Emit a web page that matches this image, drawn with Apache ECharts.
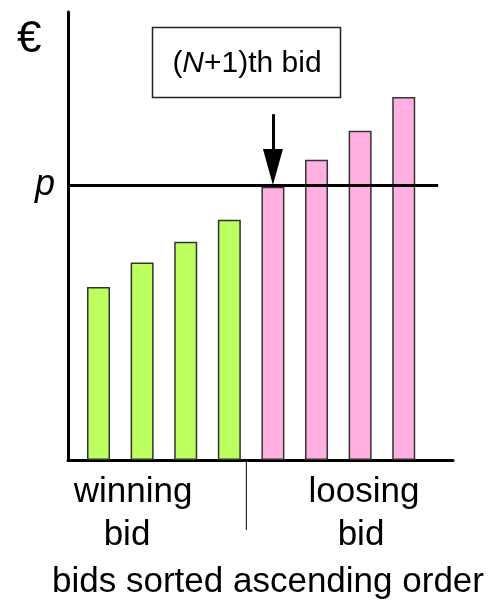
<!DOCTYPE html>
<html>
<head>
<meta charset="utf-8">
<script src="https://cdn.jsdelivr.net/npm/echarts@6/dist/echarts.min.js"></script>
<style>
    html, body { margin: 0; padding: 0; background: #fff; }
    #chart { width: 500px; height: 603px; }
</style>
</head>
<body>
<div id="chart"></div>
<script>
    // bids, sorted ascending (index on the x axis, value in arbitrary units)
    var bidIndex = [1, 2, 3, 4, 5, 6, 7, 8];
    var winningBids = [38.6, 44.1, 48.7, 53.6];
    var losingBids = [61.0, 67.0, 73.5, 81.0];
    var clearingPrice = 61.4;   // p
    var arrowFrom = 65.4;        // arrow head centre, points at the (N+1)th bid
    var arrowStart = 77.2;

    var FONT = '"Liberation Sans", Arial, sans-serif';
    var GREEN = '#bcff5e';
    var PINK = '#ffafe0';

    var barData = [];
    for (var i = 0; i < bidIndex.length; i++) {
        var win = i < winningBids.length;
        barData.push({
            value: [bidIndex[i], win ? winningBids[i] : losingBids[i - winningBids.length]],
            itemStyle: { color: win ? GREEN : PINK }
        });
    }

    var myChart = echarts.init(document.getElementById('chart'));
    var option = {
        animation: false,
        grid: { left: 68, right: 47, top: 12, bottom: 143 },
        xAxis: {
            type: 'value',
            min: 0.3,
            max: 9.13,
            axisLine: { show: true, lineStyle: { color: '#000', width: 3 } },
            axisTick: { show: false },
            axisLabel: { show: false },
            splitLine: { show: false }
        },
        yAxis: {
            type: 'value',
            min: 0,
            max: 100,
            axisLine: { show: true, lineStyle: { color: '#000', width: 3 } },
            axisTick: { show: false },
            axisLabel: { show: false },
            splitLine: { show: false }
        },
        series: [{
            type: 'bar',
            barWidth: 23,
            data: barData,
            itemStyle: { borderColor: '#333', borderWidth: 1.5 },
            markLine: {
                silent: true,
                symbol: 'none',
                data: [
                    [
                        { coord: [0.3, clearingPrice], lineStyle: { color: '#000', width: 3, type: 'solid' },
                          label: { show: true, position: 'start', formatter: 'p', distance: 13,
                                   fontFamily: FONT, fontStyle: 'italic', fontSize: 36, color: '#000' } },
                        { coord: [8.79, clearingPrice] }
                    ],
                    [
                        { coord: [5, arrowStart], symbol: 'none', lineStyle: { color: '#000', width: 3, type: 'solid' },
                          label: { show: false } },
                        { coord: [5, arrowFrom], symbol: 'triangle', symbolSize: [20, 36] }
                    ]
                ]
            }
        }]
    };
    myChart.setOption(option);

    var divX = myChart.convertToPixel({ xAxisIndex: 0 }, 4.39);
    var axisY = myChart.convertToPixel({ yAxisIndex: 0 }, 0);

    myChart.setOption({
        graphic: [
            { type: 'text', left: 17, top: 18, style: { text: '€', font: '44px ' + FONT, fill: '#000' } },
            { type: 'rect', shape: { x: 152.5, y: 27.5, width: 188, height: 70 },
              style: { fill: '#fff', stroke: '#222', lineWidth: 1.5 } },
            { type: 'text', x: 247, y: 64,
              style: { text: '({i|N}+1)th bid', fill: '#000', font: '30px ' + FONT,
                       align: 'center', verticalAlign: 'middle',
                       rich: { i: { fontStyle: 'italic', fontSize: 30, fontFamily: FONT } } } },
            { type: 'line', shape: { x1: divX, y1: axisY, x2: divX, y2: 530 },
              style: { stroke: '#000', lineWidth: 1 } },
            { type: 'text', x: 133, y: 492,
              style: { text: 'winning', font: '35px ' + FONT, fill: '#000', align: 'center', verticalAlign: 'middle' } },
            { type: 'text', x: 127, y: 535,
              style: { text: 'bid', font: '35px ' + FONT, fill: '#000', align: 'center', verticalAlign: 'middle' } },
            { type: 'text', x: 364, y: 492,
              style: { text: 'loosing', font: '35px ' + FONT, fill: '#000', align: 'center', verticalAlign: 'middle' } },
            { type: 'text', x: 361, y: 535,
              style: { text: 'bid', font: '35px ' + FONT, fill: '#000', align: 'center', verticalAlign: 'middle' } },
            { type: 'text', x: 268, y: 582,
              style: { text: 'bids sorted ascending order', font: '35px ' + FONT, fill: '#000', align: 'center', verticalAlign: 'middle' } }
        ]
    });
</script>
</body>
</html>
